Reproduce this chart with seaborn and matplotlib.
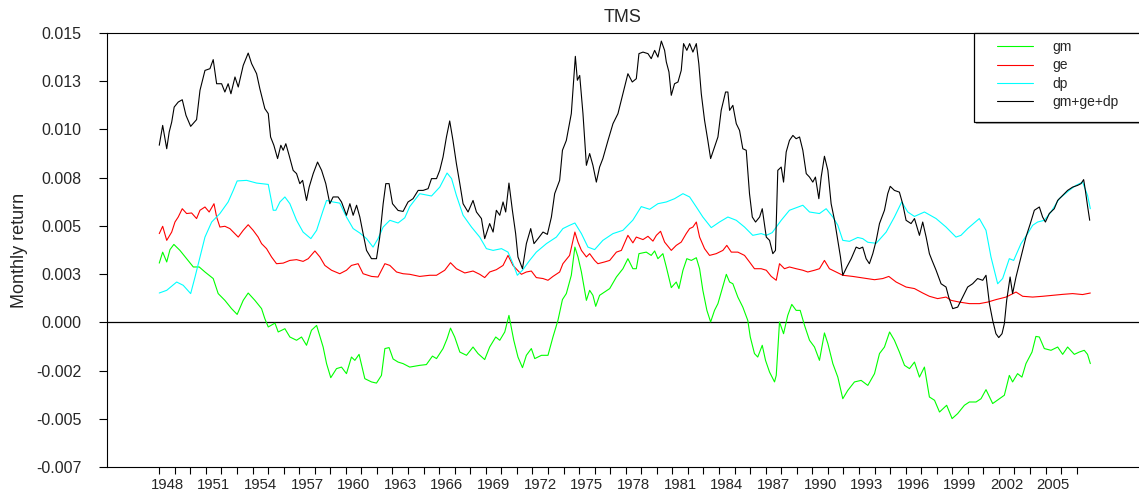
import numpy as np
import pandas as pd
import seaborn as sns
import matplotlib.pyplot as plt
from matplotlib.patches import Rectangle

# values (monthly return, in units of 0.001)
gm_year = [1948.00, 1948.22, 1948.48, 1948.69, 1948.94, 1949.33, 1949.76, 1950.19, 1950.57, 1950.94,
           1951.47, 1951.79, 1952.22, 1952.65, 1953.01, 1953.40, 1953.72, 1954.15, 1954.58, 1954.79,
           1955.01, 1955.44, 1955.65, 1956.08, 1956.40, 1956.83, 1957.15, 1957.47, 1957.79, 1958.12,
           1958.54, 1958.76, 1959.03, 1959.40, 1959.72, 1960.04, 1960.36, 1960.58, 1960.85, 1961.22,
           1961.65, 1961.97, 1962.29, 1962.51, 1962.78, 1963.04, 1963.36, 1963.68, 1964.11, 1964.75,
           1965.18, 1965.57, 1965.83, 1966.25, 1966.51, 1966.73, 1967.00, 1967.33, 1967.76, 1968.18,
           1968.50, 1968.93, 1969.25, 1969.64, 1969.90, 1970.22, 1970.49, 1970.80, 1971.07, 1971.36,
           1971.61, 1971.93, 1972.15, 1972.58, 1973.00, 1973.32, 1973.64, 1973.93, 1974.18, 1974.50,
           1974.73, 1974.93, 1975.15, 1975.47, 1975.68, 1975.89, 1976.07, 1976.32, 1976.64, 1976.97,
           1977.40, 1977.82, 1978.14, 1978.46, 1978.68, 1978.85, 1979.32, 1979.64, 1979.86, 1980.07,
           1980.39, 1980.61, 1980.93, 1981.25, 1981.42, 1981.68, 1981.93, 1982.22, 1982.54, 1982.75,
           1982.96, 1983.22, 1983.46, 1983.71, 1983.93, 1984.21, 1984.47, 1984.68, 1984.89, 1985.21,
           1985.53, 1985.85, 1986.01, 1986.28, 1986.49, 1986.78, 1986.99, 1987.25, 1987.57, 1987.68,
           1987.89, 1988.15, 1988.42, 1988.68, 1988.96, 1989.22, 1989.50, 1989.82, 1990.14, 1990.46,
           1990.78, 1991.00, 1991.32, 1991.64, 1991.96, 1992.28, 1992.71, 1993.14, 1993.57, 1994.00,
           1994.32, 1994.64, 1994.97, 1995.28, 1995.60, 1995.93, 1996.25, 1996.57, 1996.89, 1997.21,
           1997.53, 1997.86, 1998.18, 1998.64, 1998.99, 1999.35, 1999.78, 2000.10, 2000.53, 2000.85,
           2001.17, 2001.60, 2002.03, 2002.35, 2002.67, 2002.88, 2003.20, 2003.48, 2003.74, 2004.13,
           2004.38, 2004.60, 2004.92, 2005.35, 2005.78, 2006.10, 2006.42, 2006.85, 2007.17, 2007.49,
           2007.70, 2007.88]
gm = [3.07, 3.64, 3.13, 3.77, 4.04, 3.73, 3.30, 2.87, 2.87, 2.61,
      2.27, 1.49, 1.14, 0.71, 0.41, 1.14, 1.52, 1.14, 0.71, 0.19,
      -0.24, -0.04, -0.50, -0.33, -0.76, -0.93, -0.76, -1.19, -0.41, -0.16,
      -1.28, -2.14, -2.87, -2.40, -2.32, -2.66, -1.80, -1.97, -1.66, -2.92,
      -3.09, -3.15, -2.75, -1.36, -1.31, -1.90, -2.06, -2.14, -2.32, -2.23,
      -2.19, -1.75, -1.88, -1.36, -0.85, -0.30, -0.76, -1.54, -1.71, -1.28,
      -1.62, -1.93, -1.28, -0.76, -0.93, -0.50, 0.36, -0.93, -1.80, -2.35,
      -1.71, -1.36, -1.88, -1.71, -1.71, -0.76, 0.10, 1.18, 1.49, 2.44,
      3.90, 3.39, 2.61, 1.14, 1.66, 1.40, 0.83, 1.40, 1.57, 1.75,
      2.35, 2.78, 3.30, 2.78, 2.78, 3.56, 3.64, 3.47, 3.70, 3.30,
      3.56, 2.87, 1.80, 2.09, 1.75, 2.70, 3.30, 3.21, 3.35, 2.78,
      1.66, 0.62, 0.02, 0.62, 0.97, 1.75, 2.49, 2.09, 2.00, 1.31,
      0.79, 0.10, -0.76, -1.62, -1.80, -1.19, -1.97, -2.58, -3.09, -2.75,
      0.02, -0.59, 0.36, 0.93, 0.62, 0.62, -0.16, -0.93, -1.28, -1.97,
      -0.55, -1.10, -2.14, -2.84, -3.96, -3.53, -3.09, -3.01, -3.27, -2.66,
      -1.62, -1.28, -0.50, -0.93, -1.54, -2.23, -2.40, -2.06, -2.84, -2.32,
      -3.87, -4.04, -4.65, -4.30, -4.99, -4.73, -4.30, -4.13, -4.13, -3.96,
      -3.49, -4.21, -3.96, -3.78, -2.75, -3.09, -2.66, -2.84, -2.14, -1.54,
      -0.73, -0.76, -1.36, -1.45, -1.28, -1.66, -1.28, -1.66, -1.54, -1.45,
      -1.66, -2.14]

ge_year = [1948.00, 1948.22, 1948.48, 1948.80, 1949.01, 1949.22, 1949.48, 1949.76, 1950.08, 1950.40,
           1950.62, 1950.94, 1951.21, 1951.52, 1951.69, 1951.90, 1952.22, 1952.54, 1952.76, 1953.08,
           1953.40, 1953.72, 1954.04, 1954.36, 1954.58, 1954.90, 1955.22, 1955.54, 1955.97, 1956.40,
           1956.83, 1957.25, 1957.58, 1958.01, 1958.33, 1958.65, 1959.08, 1959.61, 1960.04, 1960.36,
           1960.79, 1961.11, 1961.65, 1962.07, 1962.51, 1962.83, 1963.26, 1963.68, 1964.11, 1964.75,
           1965.40, 1965.83, 1966.36, 1966.73, 1967.11, 1967.65, 1968.18, 1968.61, 1968.93, 1969.25,
           1969.68, 1970.11, 1970.43, 1970.75, 1971.29, 1971.61, 1971.93, 1972.25, 1972.68, 1973.00,
           1973.32, 1973.75, 1973.96, 1974.39, 1974.73, 1974.93, 1975.15, 1975.47, 1975.68, 1976.00,
           1976.21, 1976.64, 1976.97, 1977.40, 1977.72, 1978.14, 1978.46, 1978.68, 1979.11, 1979.43,
           1979.75, 1979.97, 1980.24, 1980.50, 1980.93, 1981.25, 1981.57, 1981.89, 1982.11, 1982.32,
           1982.54, 1982.75, 1983.07, 1983.39, 1983.82, 1984.25, 1984.50, 1984.79, 1985.21, 1985.64,
           1985.96, 1986.28, 1986.71, 1987.04, 1987.36, 1987.68, 1987.89, 1988.21, 1988.53, 1988.96,
           1989.39, 1989.71, 1990.14, 1990.46, 1990.78, 1991.10, 1991.53, 1991.96, 1992.60, 1993.24,
           1994.00, 1994.53, 1994.92, 1995.39, 1996.03, 1996.57, 1997.10, 1997.53, 1998.06, 1998.60,
           1998.92, 1999.46, 2000.10, 2000.75, 2001.28, 2001.82, 2002.46, 2003.10, 2003.53, 2004.17,
           2004.81, 2005.45, 2006.10, 2006.74, 2007.38, 2007.88]
ge = [4.60, 4.98, 4.25, 4.68, 5.20, 5.46, 5.89, 5.64, 5.67, 5.38,
      5.81, 5.98, 5.72, 6.15, 5.46, 4.94, 4.98, 4.86, 4.68, 4.42,
      4.77, 5.06, 4.77, 4.42, 4.08, 3.82, 3.39, 3.04, 3.07, 3.21,
      3.25, 3.16, 3.30, 3.70, 3.39, 2.95, 2.70, 2.52, 2.70, 2.95,
      3.04, 2.52, 2.38, 2.35, 3.04, 2.95, 2.61, 2.52, 2.49, 2.38,
      2.44, 2.44, 2.70, 3.09, 2.78, 2.56, 2.66, 2.49, 2.32, 2.61,
      2.73, 2.95, 3.47, 2.95, 2.49, 2.61, 2.66, 2.32, 2.27, 2.18,
      2.38, 2.61, 3.04, 3.47, 4.68, 4.16, 3.73, 3.39, 3.56, 3.21,
      3.04, 3.13, 3.21, 3.64, 3.73, 4.51, 4.12, 4.42, 4.29, 4.46,
      4.21, 4.51, 4.72, 4.16, 3.73, 3.99, 4.16, 4.60, 4.86, 4.94,
      5.20, 4.42, 3.82, 3.47, 3.56, 3.73, 3.99, 3.64, 3.64, 3.47,
      3.13, 2.78, 2.78, 2.70, 2.38, 2.18, 3.04, 2.78, 2.87, 2.78,
      2.70, 2.61, 2.70, 2.78, 3.21, 2.78, 2.61, 2.44, 2.38, 2.30,
      2.21, 2.27, 2.38, 2.09, 1.83, 1.75, 1.52, 1.35, 1.23, 1.31,
      1.14, 1.05, 0.97, 0.97, 1.05, 1.18, 1.31, 1.57, 1.35, 1.31,
      1.35, 1.40, 1.45, 1.49, 1.44, 1.52]

dp_year = [1948.00, 1948.48, 1949.12, 1949.54, 1950.02, 1950.30, 1950.62, 1950.94, 1951.37, 1951.90,
           1952.43, 1952.76, 1953.01, 1953.62, 1954.26, 1955.01, 1955.33, 1955.50, 1955.76, 1956.08,
           1956.40, 1956.83, 1957.25, 1957.75, 1958.12, 1958.54, 1958.76, 1959.18, 1959.61, 1960.04,
           1960.47, 1960.90, 1961.33, 1961.75, 1962.07, 1962.40, 1962.83, 1963.36, 1963.79, 1964.11,
           1964.75, 1965.51, 1966.04, 1966.51, 1966.80, 1967.11, 1967.54, 1968.08, 1968.61, 1969.04,
           1969.47, 1970.01, 1970.43, 1970.75, 1971.03, 1971.36, 1971.82, 1972.25, 1972.90, 1973.54,
           1973.96, 1974.39, 1974.73, 1975.15, 1975.57, 1976.00, 1976.53, 1977.18, 1977.82, 1978.46,
           1979.00, 1979.54, 1980.07, 1980.61, 1981.14, 1981.68, 1982.11, 1982.54, 1982.96, 1983.50,
           1984.03, 1984.57, 1985.11, 1985.64, 1986.17, 1986.71, 1987.04, 1987.42, 1988.00, 1988.53,
           1989.39, 1989.82, 1990.46, 1990.89, 1991.32, 1991.64, 1991.96, 1992.39, 1992.92, 1993.24,
           1993.57, 1994.11, 1994.75, 1995.28, 1995.75, 1996.14, 1996.57, 1997.21, 1997.96, 1998.60,
           1999.24, 1999.56, 1999.99, 2000.74, 2001.17, 2001.49, 2001.92, 2002.24, 2002.67, 2002.95,
           2003.42, 2003.85, 2004.17, 2004.49, 2004.92, 2005.35, 2005.88, 2006.52, 2006.95, 2007.38,
           2007.70, 2007.88]
dp = [1.52, 1.66, 2.09, 1.92, 1.49, 2.35, 3.39, 4.42, 5.20, 5.64,
      6.24, 6.84, 7.33, 7.36, 7.22, 7.15, 5.81, 5.81, 6.24, 6.50,
      6.15, 5.29, 4.68, 4.34, 4.77, 5.81, 6.32, 6.24, 6.18, 5.46,
      4.86, 4.63, 4.34, 3.90, 4.34, 4.94, 5.29, 5.15, 5.42, 6.00,
      6.67, 6.55, 7.01, 7.74, 7.45, 6.58, 5.55, 4.94, 4.42, 3.82,
      3.73, 3.82, 3.64, 3.04, 2.44, 2.70, 3.21, 3.64, 4.08, 4.42,
      4.86, 5.03, 5.15, 4.60, 3.90, 3.77, 4.25, 4.60, 4.77, 5.30,
      6.00, 5.86, 6.15, 6.24, 6.41, 6.67, 6.50, 5.98, 5.46, 4.91,
      5.20, 5.46, 5.29, 4.94, 4.51, 4.60, 4.51, 4.65, 5.29, 5.81,
      6.07, 5.72, 5.64, 5.89, 5.46, 5.03, 4.25, 4.20, 4.40, 4.34,
      4.15, 4.10, 4.68, 5.46, 6.24, 5.72, 5.49, 5.72, 5.38, 4.94,
      4.42, 4.51, 4.86, 5.38, 4.77, 3.39, 2.00, 2.27, 3.30, 3.21,
      4.08, 4.60, 5.03, 5.20, 5.29, 5.72, 6.41, 6.84, 7.10, 7.27,
      6.58, 5.89]

tms_year = [1948.00, 1948.22, 1948.48, 1948.64, 1948.80, 1948.96, 1949.22, 1949.48, 1949.72, 1950.02,
            1950.40, 1950.62, 1950.94, 1951.26, 1951.47, 1951.69, 1952.01, 1952.22, 1952.43, 1952.61,
            1952.87, 1953.08, 1953.40, 1953.72, 1953.94, 1954.26, 1954.47, 1954.79, 1955.01, 1955.16,
            1955.37, 1955.61, 1955.82, 1955.97, 1956.14, 1956.35, 1956.61, 1956.83, 1957.04, 1957.22,
            1957.47, 1957.64, 1957.90, 1958.18, 1958.44, 1958.71, 1958.97, 1959.18, 1959.50, 1959.72,
            1960.04, 1960.26, 1960.47, 1960.69, 1960.90, 1961.11, 1961.33, 1961.65, 1961.97, 1962.18,
            1962.40, 1962.57, 1962.78, 1963.00, 1963.36, 1963.68, 1964.00, 1964.32, 1964.65, 1964.97,
            1965.29, 1965.51, 1965.83, 1966.04, 1966.25, 1966.47, 1966.68, 1966.89, 1967.11, 1967.33,
            1967.54, 1967.86, 1968.18, 1968.40, 1968.72, 1968.93, 1969.25, 1969.47, 1969.68, 1969.90,
            1970.11, 1970.28, 1970.49, 1970.71, 1970.92, 1971.07, 1971.36, 1971.61, 1971.89, 1972.10,
            1972.36, 1972.68, 1972.96, 1973.22, 1973.43, 1973.75, 1973.93, 1974.18, 1974.50, 1974.76,
            1974.89, 1975.04, 1975.25, 1975.47, 1975.68, 1975.89, 1976.11, 1976.32, 1976.53, 1976.86,
            1977.18, 1977.50, 1977.82, 1978.14, 1978.42, 1978.68, 1978.85, 1979.11, 1979.43, 1979.64,
            1979.86, 1980.07, 1980.29, 1980.50, 1980.61, 1980.78, 1980.93, 1981.14, 1981.36, 1981.57,
            1981.72, 1981.93, 1982.11, 1982.32, 1982.54, 1982.70, 1982.86, 1983.07, 1983.28, 1983.46,
            1983.71, 1983.93, 1984.14, 1984.42, 1984.57, 1984.68, 1984.89, 1985.11, 1985.32, 1985.53,
            1985.75, 1985.96, 1986.14, 1986.35, 1986.61, 1986.78, 1987.04, 1987.25, 1987.46, 1987.63,
            1987.78, 1988.00, 1988.15, 1988.32, 1988.53, 1988.75, 1988.96, 1989.18, 1989.39, 1989.61,
            1989.82, 1990.03, 1990.20, 1990.42, 1990.57, 1990.78, 1991.00, 1991.21, 1991.43, 1991.64,
            1991.81, 1991.96, 1992.22, 1992.50, 1992.82, 1993.03, 1993.24, 1993.46, 1993.67, 1993.89,
            1994.11, 1994.32, 1994.64, 1994.85, 1995.01, 1995.28, 1995.60, 1995.81, 1996.03, 1996.35,
            1996.57, 1996.89, 1997.10, 1997.32, 1997.53, 1997.70, 1997.96, 1998.28, 1998.60, 1998.77,
            1999.03, 1999.35, 1999.67, 1999.99, 2000.31, 2000.63, 2000.96, 2001.17, 2001.39, 2001.60,
            2001.81, 2001.99, 2002.20, 2002.35, 2002.50, 2002.72, 2002.88, 2003.10, 2003.42, 2003.74,
            2004.02, 2004.28, 2004.60, 2004.81, 2004.99, 2005.24, 2005.56, 2005.78, 2006.10, 2006.42,
            2006.74, 2007.06, 2007.28, 2007.45, 2007.56, 2007.71, 2007.84]
tms = [9.18, 10.21, 9.00, 9.87, 10.38, 11.16, 11.42, 11.54, 10.73, 10.16,
       10.51, 12.03, 13.06, 13.15, 13.62, 12.37, 12.37, 11.94, 12.37, 11.85,
       12.72, 12.20, 13.32, 13.96, 13.41, 12.89, 12.11, 11.08, 10.82, 9.61,
       9.18, 8.49, 9.18, 8.92, 9.26, 8.66, 7.88, 7.71, 7.19, 7.36,
       6.32, 7.01, 7.71, 8.31, 7.88, 7.19, 6.15, 6.50, 6.50, 6.24,
       5.55, 6.15, 5.55, 6.07, 5.46, 4.60, 3.73, 3.30, 3.30, 4.42,
       6.15, 7.19, 7.19, 6.15, 5.80, 5.75, 6.24, 6.41, 6.84, 6.84,
       6.93, 7.45, 7.45, 7.88, 8.57, 9.61, 10.44, 9.43, 8.23, 7.19,
       6.15, 5.72, 6.32, 5.72, 5.38, 4.34, 5.12, 4.68, 5.81, 5.55,
       6.24, 5.72, 7.22, 5.81, 4.60, 3.39, 2.78, 4.08, 4.86, 4.08,
       4.34, 4.68, 4.56, 5.46, 6.67, 7.36, 8.92, 9.43, 10.82, 13.79,
       12.55, 12.80, 10.82, 8.14, 8.75, 8.14, 7.27, 8.05, 8.49, 9.43,
       10.30, 10.82, 11.85, 12.89, 12.46, 12.63, 13.93, 14.01, 13.93, 13.67,
       14.10, 13.75, 14.58, 14.10, 13.50, 12.98, 11.77, 12.37, 12.46, 13.06,
       14.45, 14.10, 14.45, 14.01, 14.45, 13.41, 11.85, 10.47, 9.43, 8.49,
       9.09, 9.61, 10.99, 11.94, 11.94, 10.99, 11.25, 10.30, 9.95, 9.00,
       8.92, 6.67, 5.46, 5.20, 5.46, 5.89, 4.42, 4.25, 3.56, 3.73,
       7.88, 8.05, 7.27, 8.83, 9.43, 9.69, 9.52, 9.61, 8.92, 7.71,
       7.53, 7.27, 7.53, 6.41, 7.53, 8.61, 7.88, 6.15, 5.29, 4.25,
       3.39, 2.44, 2.87, 3.30, 3.90, 3.82, 3.90, 3.30, 3.04, 3.56,
       4.25, 5.12, 5.81, 6.67, 7.05, 6.84, 6.75, 6.15, 5.29, 5.12,
       5.38, 4.51, 5.20, 4.42, 3.56, 3.21, 2.70, 2.00, 1.83, 1.31,
       0.71, 0.79, 1.31, 1.83, 2.00, 2.27, 2.18, 2.44, 0.97, 0.10,
       -0.59, -0.79, -0.59, -0.07, 1.14, 2.35, 1.49, 2.35, 3.39, 4.42,
       5.12, 5.81, 5.98, 5.46, 5.20, 5.64, 5.89, 6.32, 6.58, 6.84,
       7.01, 7.10, 7.19, 7.40, 6.84, 5.98, 5.29]

series_names = ['gm', 'ge', 'dp', 'gm+ge+dp']
series_colors = ['#00ff00', '#ff0000', '#00ffff', '#000000']

y_ticks = [0.015, 0.0125, 0.01, 0.0075, 0.005, 0.0025, 0.0, -0.0025, -0.005, -0.0075]
y_ticklabels = ['0.015', '0.013', '0.010', '0.008', '0.005', '0.003', '0.000',
                '-0.002', '-0.005', '-0.007']
year_labels = list(range(1948, 2006, 3))

# long form table for seaborn
frames = []
for name, yrs, vals in zip(series_names, [gm_year, ge_year, dp_year, tms_year], [gm, ge, dp, tms]):
    frames.append(pd.DataFrame({'year': yrs, 'ret': np.array(vals) / 1000, 'series': name}))
df = pd.concat(frames, ignore_index=True)

sns.set_style('ticks')
plt.rcParams['font.family'] = ['Liberation Sans', 'DejaVu Sans']

fig = plt.figure(figsize=(11.39, 4.96), dpi=100)
ax = fig.add_axes([106.7 / 1139, 1 - 467 / 496, 1 - 106.7 / 1139, 434 / 496])

sns.lineplot(data=df, x='year', y='ret', hue='series', hue_order=series_names,
             palette=dict(zip(series_names, series_colors)), estimator=None, sort=False,
             linewidth=0.8, ax=ax, legend=True)
ax.axhline(0, color='black', linewidth=0.9, zorder=1)

ax.set_xlim(1944.62, 2011.01)
ax.set_ylim(-0.0075, 0.015)

ax.set_yticks(y_ticks)
ax.set_yticklabels(y_ticklabels)
ax.tick_params(axis='y', direction='out', length=6, width=0.8, pad=12, labelsize=11.5, color='black')

ax.set_xticks([y + 0.5 for y in year_labels])
ax.set_xticklabels([str(y) for y in year_labels])
ax.set_xticks(list(range(1948, 2008)), minor=True)
ax.tick_params(axis='x', which='major', length=0, pad=8, labelsize=10.7)
ax.tick_params(axis='x', which='minor', direction='out', length=5, width=0.8, color='black')

for side in ['left', 'bottom', 'top']:
    ax.spines[side].set_color('black')
    ax.spines[side].set_linewidth(0.8)
ax.spines['right'].set_visible(False)

ax.set_xlabel('')
ax.set_ylabel('Monthly return', fontsize=13, labelpad=6)
ax.set_title('TMS', fontsize=13, pad=8)

# legend box with a slight shadow, legend drawn on top of it
handles, labels = ax.get_legend_handles_labels()
ax.get_legend().remove()
fig.add_artist(Rectangle((976 / 1139, 1 - 124 / 496), 0.2, (124 - 35) / 496,
                         transform=fig.transFigure, facecolor='#aaaaaa', edgecolor='none', zorder=2))
fig.add_artist(Rectangle((974.3 / 1139, 1 - 122.3 / 496), 0.2, (122.3 - 33) / 496,
                         transform=fig.transFigure, facecolor='white', edgecolor='black',
                         linewidth=0.9, zorder=3))
fig.legend(handles, labels, loc='upper left', bbox_to_anchor=(996.7 / 1139, 1 - 40 / 496),
           frameon=False, borderpad=0, borderaxespad=0, fontsize=10, handlelength=2.6,
           handletextpad=1.4, labelspacing=0.32)

fig.savefig('out.png', dpi=100)
